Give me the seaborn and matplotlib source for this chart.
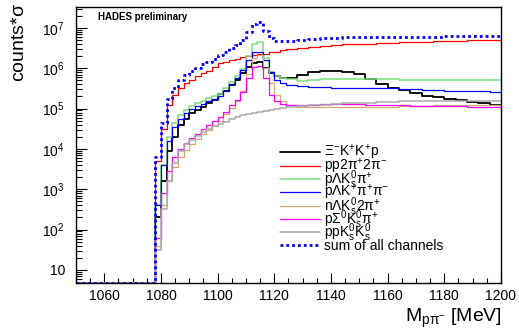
import numpy as np
import seaborn as sns
import matplotlib.pyplot as plt
from matplotlib.legend import Legend
from matplotlib.ticker import MultipleLocator, FixedLocator, LogLocator, FuncFormatter, NullFormatter

# bin edges [MeV]: one empty bin below threshold, 2 MeV up to 1124, 4 MeV after
edges = np.concatenate([[1050], np.arange(1078, 1125, 2), np.arange(1128, 1201, 4)])
centers = (edges[:-1] + edges[1:]) / 2

xi_kkp = [0, 2.0e2, 1.6e3, 8.9e3, 2.0e4, 4.0e4, 5.6e4, 7.6e4, 9.3e4, 1.12e5, 1.35e5, 1.66e5,
          2.24e5, 2.8e5, 3.8e5, 5.2e5, 7.6e5, 1.05e6, 1.32e6, 1.41e6, 1.0e6, 7.6e5, 6.3e5, 5.8e5,
          5.8e5, 6.9e5, 8.3e5, 8.5e5, 8.5e5, 8.3e5, 7.4e5, 5.4e5, 4.0e5, 3.3e5, 2.9e5, 2.5e5,
          2.1e5, 1.9e5, 1.74e5, 1.62e5, 1.48e5, 1.38e5, 1.26e5]
pp2pi2pi = [0, 5.0e3, 3.2e4, 1.26e5, 2.2e5, 3.2e5, 4.2e5, 5.0e5, 6.3e5, 7.6e5, 8.7e5, 1.05e6,
            1.32e6, 1.45e6, 1.58e6, 1.74e6, 1.86e6, 2.0e6, 2.1e6, 2.2e6, 2.3e6, 2.5e6, 2.6e6, 2.8e6,
            3.0e6, 3.2e6, 3.4e6, 3.5e6, 3.7e6, 3.9e6, 4.0e6, 4.1e6, 4.2e6, 4.3e6, 4.4e6, 4.5e6,
            4.6e6, 4.7e6, 4.8e6, 4.8e6, 4.9e6, 4.9e6, 5.0e6]
plk0pi = [0, 4.0e2, 4.0e3, 2.0e4, 4.5e4, 7.1e4, 9.3e4, 1.15e5, 1.35e5, 1.58e5, 1.82e5, 2.0e5,
          2.3e5, 3.2e5, 4.5e5, 6.3e5, 9.5e5, 2.0e6, 4.0e6, 4.5e6, 1.78e6, 8.3e5, 6.3e5, 5.8e5,
          5.5e5, 4.8e5, 5.2e5, 5.4e5, 5.3e5, 5.3e5, 5.3e5, 5.3e5, 5.3e5, 5.3e5, 5.1e5, 5.1e5,
          5.1e5, 5.1e5, 5.0e5, 5.0e5, 5.0e5, 5.0e5, 5.0e5]
plkpipi = [0, 4.0e2, 4.0e3, 1.6e4, 3.4e4, 5.5e4, 7.6e4, 9.8e4, 1.15e5, 1.32e5, 1.51e5, 1.74e5,
           2.0e5, 2.7e5, 4.0e5, 5.6e5, 8.9e5, 1.58e6, 2.5e6, 2.6e6, 1.58e6, 7.9e5, 5.2e5, 4.4e5,
           3.9e5, 3.6e5, 3.5e5, 3.4e5, 3.3e5, 3.3e5, 3.2e5, 3.2e5, 3.2e5, 3.15e5, 3.1e5, 3.0e5,
           2.95e5, 2.9e5, 2.8e5, 2.75e5, 2.7e5, 2.7e5, 2.6e5]
nlk02pi = [0, 40, 4.0e2, 1.6e3, 3.5e3, 6.3e3, 9.5e3, 1.32e4, 1.78e4, 2.3e4, 3.0e4, 3.8e4,
           5.0e4, 7.2e4, 1.05e5, 1.58e5, 2.8e5, 7.1e5, 1.78e6, 2.1e6, 1.0e6, 4.2e5, 2.2e5, 1.58e5,
           1.26e5, 1.1e5, 1.07e5, 1.07e5, 1.07e5, 1.07e5, 1.07e5, 1.07e5, 1.1e5, 1.12e5, 1.15e5, 1.15e5,
           1.17e5, 1.2e5, 1.2e5, 1.23e5, 1.23e5, 1.26e5, 1.26e5]
psigk0pi = [0, 63, 8.0e2, 2.8e3, 6.3e3, 1.0e4, 1.4e4, 1.9e4, 2.4e4, 3.2e4, 4.0e4, 5.0e4,
            6.3e4, 8.3e4, 1.2e5, 1.66e5, 2.6e5, 5.6e5, 1.05e6, 1.12e6, 5.6e5, 2.2e5, 1.58e5, 1.32e5,
            1.23e5, 1.25e5, 1.26e5, 1.27e5, 1.28e5, 1.28e5, 1.27e5, 1.26e5, 1.25e5, 1.23e5, 1.2e5, 1.18e5,
            1.17e5, 1.15e5, 1.14e5, 1.13e5, 1.12e5, 1.12e5, 1.1e5]
ppk0k0 = [0, 32, 3.2e2, 1.6e3, 4.5e3, 8.9e3, 1.32e4, 1.66e4, 2.1e4, 2.6e4, 3.2e4, 3.6e4,
          4.1e4, 4.7e4, 5.4e4, 6.2e4, 6.9e4, 7.4e4, 7.9e4, 8.3e4, 8.9e4, 9.3e4, 1.0e5, 1.02e5,
          1.07e5, 1.15e5, 1.2e5, 1.26e5, 1.32e5, 1.35e5, 1.38e5, 1.41e5, 1.45e5, 1.48e5, 1.51e5, 1.51e5,
          1.55e5, 1.55e5, 1.58e5, 1.58e5, 1.58e5, 1.58e5, 1.58e5]

labels = [r"$\mathregular{\Xi^{-}K^{+}K^{+}p}$",
          r"$\mathregular{pp2\pi^{+}2\pi^{-}}$",
          r"$\mathregular{p\Lambda K^{0}_{s}\pi^{+}}$",
          r"$\mathregular{p\Lambda K^{+}\pi^{+}\pi^{-}}$",
          r"$\mathregular{n\Lambda K^{0}_{s}2\pi^{+}}$",
          r"$\mathregular{p\Sigma^{0}K^{0}_{s}\pi^{+}}$",
          r"$\mathregular{ppK^{0}_{s}K^{0}_{s}}$",
          "sum of all channels"]
channels = [xi_kkp, pp2pi2pi, plk0pi, plkpipi, nlk02pi, psigk0pi, ppk0k0]
colors = ["#000000", "#ff0000", "#7ddc7d", "#0000ff", "#d4a870", "#ff00ff", "#aaaaaa"]
widths = [1.3, 0.9, 1.1, 0.9, 0.9, 0.9, 1.1]

total = np.sum(np.array(channels), axis=0)

ylo, yhi = 4.75, 3.3e7

sns.set_style("ticks")
plt.rcParams["font.family"] = ["Liberation Sans", "DejaVu Sans"]
plt.rcParams["mathtext.fontset"] = "custom"
plt.rcParams["mathtext.rm"] = "Liberation Sans"
plt.rcParams["mathtext.it"] = "Liberation Sans:italic"
plt.rcParams["mathtext.bf"] = "Liberation Sans:bold"
plt.rcParams["axes.edgecolor"] = "black"
plt.rcParams["text.color"] = "black"
plt.rcParams["xtick.color"] = "black"
plt.rcParams["ytick.color"] = "black"

fig = plt.figure(figsize=(5.19, 3.32), dpi=100)
ax = fig.add_axes([76 / 519, 1 - 283 / 332, 425 / 519, 276 / 332])
ax.set_yscale("log")

bin_list = edges.tolist()
for vals, lab, col, lw in zip(channels, labels[:-1], colors, widths):
    sns.histplot(x=centers, weights=np.maximum(vals, ylo), bins=bin_list, element="step",
                 fill=False, color=col, linewidth=lw, label=lab, ax=ax)
sns.histplot(x=centers, weights=np.maximum(total, ylo), bins=bin_list, element="step",
             fill=False, color="#0000ff", linewidth=2.0, linestyle=(0, (1, 1.1)),
             label=labels[-1], ax=ax)

ax.set_xlim(1050, 1200)
ax.set_ylim(ylo, yhi)
ax.set_xlabel("")
ax.set_ylabel("")
for s in ["left", "bottom", "top", "right"]:
    ax.spines[s].set_linewidth(1.0)

ax.xaxis.set_major_locator(MultipleLocator(20))
ax.xaxis.set_minor_locator(MultipleLocator(5))
ax.yaxis.set_major_locator(FixedLocator([1e1, 1e2, 1e3, 1e4, 1e5, 1e6, 1e7]))
ax.yaxis.set_minor_locator(LogLocator(base=10, subs=np.arange(2, 10), numticks=20))
ax.yaxis.set_major_formatter(FuncFormatter(
    lambda v, p: "10" if abs(v - 10) < 1e-6 else r"$\mathregular{10^{%d}}$" % round(np.log10(v))))
ax.yaxis.set_minor_formatter(NullFormatter())
ax.tick_params(axis="x", which="major", direction="in", length=7, width=0.8, labelsize=10, pad=4)
ax.tick_params(axis="x", which="minor", direction="in", length=3.5, width=0.8)
ax.tick_params(axis="y", which="major", direction="in", length=8, width=0.8, labelsize=10, pad=8)
ax.tick_params(axis="y", which="minor", direction="in", length=4, width=0.8)

# legend: one row per entry at even spacing (ROOT-style)
handles, labs = ax.get_legend_handles_labels()
for i, (h, l) in enumerate(zip(handles, labs)):
    leg = Legend(ax, [h], [l], loc="center left",
                 bbox_to_anchor=(280 / 519, 1 - (153 + 13.3 * i) / 332),
                 bbox_transform=fig.transFigure, frameon=False, fontsize=10,
                 handlelength=2.85, handletextpad=0.35, borderpad=0, borderaxespad=0)
    ax.add_artist(leg)

fig.text(98 / 519, 1 - 17 / 332, "HADES preliminary", fontsize=7, fontweight="bold",
         ha="left", va="center")
fig.text(20 / 519, 1 - 3 / 332, r"counts*$\mathregular{\sigma}$", fontsize=14,
         rotation=90, ha="center", va="top")
fig.text(502 / 519, 1 - 318 / 332, r"M$_{\mathregular{p\pi^{-}}}$ [MeV]", fontsize=14,
         ha="right", va="center")

fig.savefig("out.png", dpi=100)
